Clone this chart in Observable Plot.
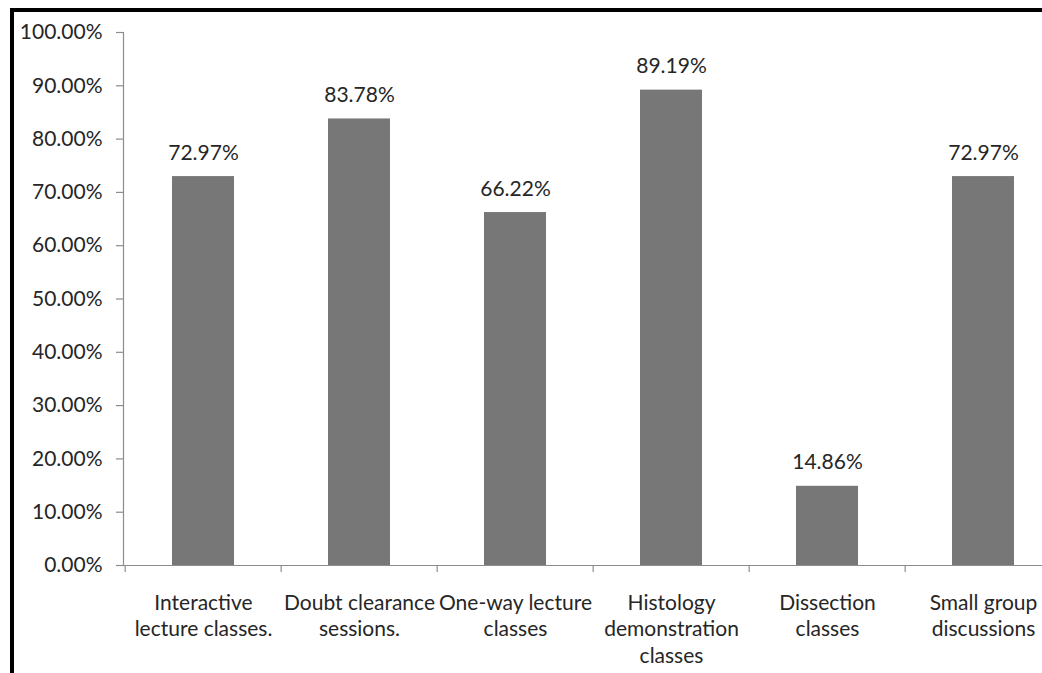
<!DOCTYPE html>
<html>
<head>
<meta charset="utf-8">
<script src="https://cdn.jsdelivr.net/npm/d3@7"></script>
<script src="https://cdn.jsdelivr.net/npm/@observablehq/plot@0.6"></script>
<style>
  html, body { margin: 0; padding: 0; background: #fff; overflow: hidden; }
  #wrap { position: relative; width: 1042px; height: 673px; }
  #frame { position: absolute; left: 10px; top: 8px; width: 1100px; height: 700px;
           border-left: 4px solid #000; border-top: 4px solid #000; pointer-events: none; }
</style>
</head>
<body>
<div id="wrap"><div id="chart"></div><div id="frame"></div></div>
<script>
const categories = [
  "Interactive\nlecture classes.",
  "Doubt clearance\nsessions.",
  "One-way lecture\nclasses",
  "Histology\ndemonstration\nclasses",
  "Dissection\nclasses",
  "Small group\ndiscussions"
];
const values = [72.97, 83.78, 66.22, 89.19, 14.86, 72.97];
const yTicks = [0, 10, 20, 30, 40, 50, 60, 70, 80, 90, 100];

const data = categories.map((c, i) => ({cat: c, value: values[i]}));

const font = "Lato, 'Open Sans', sans-serif";
const x0 = 123, x1 = 1063;
const step = (x1 - x0) / categories.length;

const chart = Plot.plot({
  width: 1042,
  height: 673,
  marginLeft: 123,
  marginRight: 0,
  marginTop: 32,
  marginBottom: 108,
  style: {fontFamily: font, background: "transparent", overflow: "visible"},
  x: {domain: categories, range: [x0, x1], paddingInner: 0.6, paddingOuter: 0.3, axis: null, label: null},
  y: {domain: [0, 100], axis: null, label: null},
  marks: [
    Plot.barY(data, {x: "cat", y: "value", fill: "#777777"}),
    Plot.ruleY([0], {stroke: "#8c8c8c", strokeWidth: 1.2}),
    Plot.frame({anchor: "left", stroke: "#8c8c8c", strokeWidth: 1.2}),
    Plot.axisY({ticks: yTicks, tickSize: 7, tickPadding: 14, stroke: "#8c8c8c", strokeWidth: 1.2,
      label: null, tickFormat: d => d.toFixed(2) + "%", fontSize: 21, fill: "#262626"}),
    Plot.axisX({ticks: categories, tickSize: 7, dx: -step / 2, stroke: "#8c8c8c", strokeWidth: 1.2,
      label: null, tickFormat: () => ""}),
    Plot.text(data, {x: "cat", y: "value", text: d => d.value.toFixed(2) + "%",
      lineAnchor: "bottom", dy: -17, fontSize: 21, fill: "#262626"}),
    Plot.text(data, {x: "cat", y: 0, text: "cat", lineAnchor: "top", dy: 25,
      lineHeight: 1.28, fontSize: 21, fill: "#262626"})
  ]
});
document.getElementById("chart").appendChild(chart);
</script>
</body>
</html>
